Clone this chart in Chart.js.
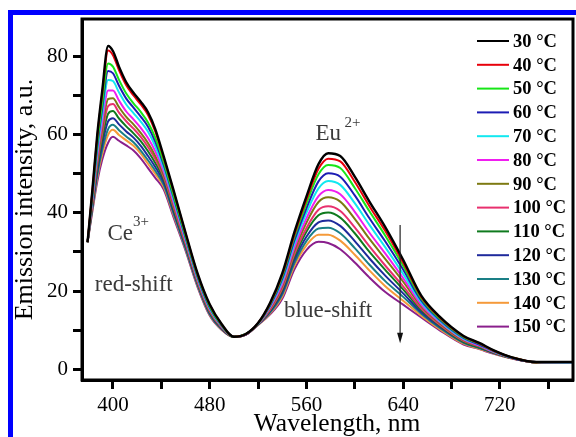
<!DOCTYPE html>
<html>
<head>
<meta charset="utf-8">
<script src="https://cdn.jsdelivr.net/npm/chart.js@4.4.1/dist/chart.umd.min.js"></script>
<style>
  html, body { margin: 0; padding: 0; background: #fff; }
  #wrap { position: relative; width: 576px; height: 437px; overflow: hidden; background: #fff; }
  #frame { position: absolute; left: 8px; top: 10px; width: 700px; height: 600px;
           border-top: 5px solid #0000ff; border-left: 5px solid #0000ff; }
  canvas { position: absolute; left: 0; top: 0; }
</style>
</head>
<body>
<div id="wrap"><div id="frame"></div><canvas id="c" width="576" height="437"></canvas></div>
<script>
//波长 (nm)
const wavelengths = [379, 383, 387, 391, 396, 400, 405, 411, 417, 423, 429, 435, 442, 450, 460, 470, 480, 490, 500, 510,
  520, 530, 540, 550, 560, 570, 578, 588, 600, 612, 625, 640, 655, 670, 690, 703, 715, 730, 750, 780];

const temps = ['30 °C', '40 °C', '50 °C', '60 °C', '70 °C', '80 °C', '90 °C', '100 °C', '110 °C', '120 °C', '130 °C', '140 °C', '150 °C'];

//各温度发射强度
const t30 = [32.5, 46, 60, 71, 82.8, 81.5, 77.5, 73.5, 70.8, 68.5, 65.8, 61.5, 54.5, 46, 35, 24.5, 16.6, 11.5, 8.3, 9, 11.8, 17, 24.5, 35, 44.2, 52.5, 55.3, 54.6, 49.3, 43, 36.5, 28, 18.8, 13.5, 8.5, 6.7, 4.8, 3, 1.8, 1.8];
const t40 = [32.5, 45.7, 59.4, 70.1, 81.6, 80.4, 76.6, 72.7, 70.1, 67.8, 65.1, 60.9, 54.1, 45.7, 34.8, 24.3, 16.5, 11.4, 8.3, 9.0, 11.8, 16.8, 24.1, 34.4, 43.4, 51.3, 53.9, 53.2, 48.0, 41.8, 35.5, 27.3, 18.5, 13.3, 8.4, 6.6, 4.7, 3.0, 1.8, 1.8];
const t50 = [32.5, 45.0, 57.8, 67.9, 78.3, 77.5, 74.1, 70.6, 68.1, 65.9, 63.2, 59.3, 53.0, 44.7, 34.2, 23.9, 16.1, 11.2, 8.3, 9.0, 11.7, 16.6, 23.7, 33.8, 42.4, 49.9, 52.3, 51.5, 46.4, 40.5, 34.3, 26.5, 18.1, 13.0, 8.2, 6.5, 4.7, 3.0, 1.8, 1.8];
const t60 = [32.5, 44.6, 56.9, 66.5, 76.4, 75.8, 72.6, 69.3, 67.0, 64.7, 62.1, 58.3, 52.3, 44.2, 33.8, 23.6, 15.8, 11.1, 8.3, 9.0, 11.7, 16.3, 23.1, 32.9, 41.2, 48.1, 50.2, 49.3, 44.5, 38.7, 32.8, 25.5, 17.6, 12.7, 8.0, 6.3, 4.6, 2.9, 1.8, 1.8];
const t70 = [32.5, 44.1, 55.8, 64.9, 74.1, 73.8, 70.9, 67.8, 65.6, 63.4, 60.8, 57.1, 51.5, 43.6, 33.4, 23.3, 15.6, 11.0, 8.3, 9.0, 11.6, 16.1, 22.5, 32.1, 40.0, 46.3, 48.2, 47.2, 42.5, 37.0, 31.3, 24.4, 17.1, 12.4, 7.8, 6.2, 4.5, 2.9, 1.8, 1.7];
const t80 = [32.5, 43.5, 54.5, 63.0, 71.4, 71.4, 68.8, 66.0, 64.0, 61.8, 59.2, 55.8, 50.6, 42.8, 32.9, 22.9, 15.3, 10.8, 8.3, 8.9, 11.6, 15.8, 21.8, 31.1, 38.6, 44.3, 45.9, 44.8, 40.3, 35.0, 29.7, 23.3, 16.5, 12.1, 7.6, 6.0, 4.4, 2.9, 1.8, 1.7];
const t90 = [32.5, 43.0, 53.4, 61.4, 69.2, 69.4, 67.1, 64.6, 62.7, 60.5, 57.9, 54.6, 49.8, 42.2, 32.5, 22.6, 15.0, 10.7, 8.3, 8.9, 11.6, 15.5, 21.3, 30.3, 37.5, 42.8, 44.0, 42.9, 38.5, 33.4, 28.3, 22.4, 16.1, 11.8, 7.4, 5.9, 4.4, 2.9, 1.7, 1.7];
const t100 = [32.5, 42.6, 52.6, 60.2, 67.4, 67.9, 65.7, 63.5, 61.6, 59.5, 56.9, 53.8, 49.2, 41.7, 32.1, 22.3, 14.8, 10.6, 8.2, 8.9, 11.5, 15.2, 20.7, 29.4, 36.1, 40.8, 41.7, 40.5, 36.3, 31.5, 26.6, 21.2, 15.5, 11.4, 7.2, 5.8, 4.3, 2.8, 1.7, 1.7];
const t110 = [32.5, 42.2, 51.6, 58.8, 65.4, 66.1, 64.2, 62.2, 60.4, 58.4, 55.8, 52.8, 48.6, 41.1, 31.8, 22.1, 14.6, 10.5, 8.2, 8.9, 11.5, 15.0, 20.2, 28.7, 35.2, 39.4, 40.1, 38.8, 34.8, 30.1, 25.5, 20.4, 15.1, 11.2, 7.0, 5.6, 4.2, 2.8, 1.7, 1.7];
const t120 = [32.5, 41.7, 50.6, 57.4, 63.5, 64.3, 62.7, 60.9, 59.3, 57.2, 54.6, 51.8, 47.9, 40.5, 31.4, 21.8, 14.3, 10.3, 8.2, 8.8, 11.4, 14.8, 19.6, 27.9, 33.9, 37.6, 38.1, 36.7, 32.8, 28.4, 24.0, 19.4, 14.6, 10.9, 6.9, 5.5, 4.1, 2.8, 1.7, 1.6];
const t130 = [32.5, 41.3, 49.7, 56.0, 61.5, 62.6, 61.2, 59.6, 58.1, 56.0, 53.5, 50.8, 47.2, 40.0, 31.0, 21.5, 14.1, 10.2, 8.2, 8.8, 11.4, 14.5, 19.1, 27.1, 32.8, 36.0, 36.2, 34.8, 31.0, 26.8, 22.6, 18.5, 14.2, 10.6, 6.7, 5.4, 4.1, 2.8, 1.7, 1.6];
const t140 = [32.5, 40.9, 49.0, 54.9, 60.0, 61.3, 60.0, 58.6, 57.2, 55.2, 52.6, 50.0, 46.7, 39.6, 30.8, 21.3, 13.9, 10.1, 8.2, 8.8, 11.3, 14.3, 18.6, 26.4, 31.7, 34.4, 34.4, 32.9, 29.3, 25.3, 21.3, 17.5, 13.7, 10.3, 6.5, 5.2, 4.0, 2.7, 1.7, 1.6];
const t150 = [32.5, 40.5, 48, 53.5, 58, 59.5, 58.5, 57.3, 56, 54, 51.5, 49, 46, 39, 30.4, 21, 13.7, 10, 8.2, 8.8, 11.3, 14, 18, 25.5, 30.5, 32.6, 32.3, 30.7, 27.3, 23.5, 19.8, 16.5, 13.2, 10, 6.3, 5.1, 3.9, 2.7, 1.7, 1.6];

const series = [t30, t40, t50, t60, t70, t80, t90, t100, t110, t120, t130, t140, t150];

//坐标轴刻度
const xTickStep = 40;
const xLabelStep = 80;
const yTickStep = 10;
const yLabelStep = 20;

const colors = ['#000000', '#e8000b', '#17e617', '#1c1cb4', '#11e8f0', '#f01ef0', '#7d7a12',
  '#e8306e', '#0f7a1e', '#1f2a9c', '#1a7f86', '#f59a3a', '#8a1f8c'];

const serif = "'Liberation Serif', 'DejaVu Serif', serif";

//外框
const framePlugin = {
  id: 'frame',
  afterDraw(chart) {
    const { ctx, chartArea: a } = chart;
    ctx.save();
    ctx.strokeStyle = '#000';
    ctx.lineWidth = 3;
    ctx.strokeRect(a.left, a.top, a.right - a.left, a.bottom - a.top);
    ctx.restore();
  }
};

//图例
const legendPlugin = {
  id: 'sideLegend',
  afterDraw(chart) {
    const { ctx, chartArea: a } = chart;
    ctx.save();
    ctx.font = 'bold 18.5px ' + serif;
    ctx.textBaseline = 'middle';
    chart.data.datasets.forEach((ds, i) => {
      const y = a.top + 22 + i * 23.8;
      ctx.strokeStyle = ds.borderColor;
      ctx.lineWidth = 2;
      ctx.beginPath();
      ctx.moveTo(a.right - 96, y);
      ctx.lineTo(a.right - 64, y);
      ctx.stroke();
      ctx.fillStyle = '#000';
      ctx.fillText(ds.label, a.right - 60, y + 1);
    });
    ctx.restore();
  }
};

//标注文字和箭头
const notesPlugin = {
  id: 'notes',
  afterDraw(chart) {
    const { ctx } = chart;
    const xs = chart.scales.x, ys = chart.scales.y;
    const px = v => xs.getPixelForValue(v);
    const py = v => ys.getPixelForValue(v);
    ctx.save();
    ctx.fillStyle = '#3a3a3a';
    ctx.textBaseline = 'alphabetic';
    ctx.font = '23px ' + serif;
    ctx.fillText('Eu', px(567.5), py(58.7));
    ctx.fillText('Ce', px(395.5), py(33.1));
    ctx.fillText('red-shift', px(385), py(20));
    ctx.fillText('blue-shift', px(541.5), py(13.3));
    ctx.font = '15px ' + serif;
    ctx.fillText('2+', px(591.5), py(62));
    ctx.fillText('3+', px(416.5), py(36.7));
    //箭头
    const ax = px(637.5);
    ctx.strokeStyle = '#222';
    ctx.lineWidth = 1.2;
    ctx.beginPath();
    ctx.moveTo(ax, py(36.9));
    ctx.lineTo(ax, py(8));
    ctx.stroke();
    ctx.fillStyle = '#111';
    ctx.beginPath();
    ctx.moveTo(ax, py(6.6));
    ctx.lineTo(ax - 3, py(9.3));
    ctx.lineTo(ax + 3, py(9.3));
    ctx.closePath();
    ctx.fill();
    ctx.restore();
  }
};

const chart = new Chart(document.getElementById('c').getContext('2d'), {
  type: 'line',
  data: {
    datasets: series.map((vals, i) => ({
      label: temps[i],
      data: wavelengths.map((w, j) => ({ x: w, y: vals[j] })),
      borderColor: colors[i],
      backgroundColor: colors[i],
      borderWidth: i === 0 ? 2.4 : 2,
      pointRadius: 0,
      cubicInterpolationMode: 'monotone',
      fill: false
    }))
  },
  options: {
    responsive: false,
    animation: false,
    layout: { padding: { left: 0, top: 19, right: 3, bottom: 0 } },
    plugins: {
      legend: { display: false },
      tooltip: { enabled: false }
    },
    scales: {
      x: {
        type: 'linear',
        min: 374.4,
        max: 780.5,
        afterBuildTicks: s => { s.ticks = s.ticks.filter(t => t.value % xTickStep === 0); },
        afterFit: s => { s.height = 57; },
        border: { color: '#000', width: 3 },
        grid: { drawOnChartArea: false, drawTicks: true, tickLength: 9, tickWidth: 3, tickColor: '#000' },
        ticks: {
          stepSize: xTickStep, includeBounds: false, autoSkip: false, maxRotation: 0, padding: 4, color: '#000',
          font: { family: serif, size: 21 },
          callback: v => (v % xLabelStep === 0 ? String(v) : '')
        },
        title: {
          display: true, text: '   Wavelength, nm', color: '#000',
          font: { family: serif, size: 25.5 },
          padding: { top: 0, bottom: -3 }
        }
      },
      y: {
        type: 'linear',
        min: -2.8,
        max: 89.7,
        afterBuildTicks: s => { s.ticks = s.ticks.filter(t => t.value % yTickStep === 0); },
        afterFit: s => { s.width = 82; },
        border: { color: '#000', width: 3 },
        grid: { drawOnChartArea: false, drawTicks: true, tickLength: 9, tickWidth: 3, tickColor: '#000' },
        ticks: {
          stepSize: yTickStep, includeBounds: false, autoSkip: false, padding: 5, color: '#000',
          font: { family: serif, size: 21 },
          callback: v => (v % yLabelStep === 0 ? String(v) : '')
        },
        title: {
          display: true, text: 'Emission intensity, a.u.', color: '#000',
          font: { family: serif, size: 26 },
          padding: { top: 10, bottom: 0 }
        }
      }
    }
  },
  plugins: [framePlugin, legendPlugin, notesPlugin]
});
</script>
</body>
</html>
